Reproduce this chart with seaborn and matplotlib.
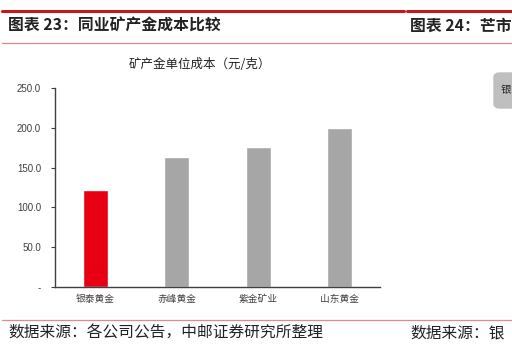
import matplotlib
matplotlib.use("Agg")
import matplotlib.pyplot as plt
import pandas as pd
import seaborn as sns
from matplotlib.lines import Line2D
from matplotlib.patches import FancyBboxPatch

sns.set_theme(style="white")
plt.rcParams["font.family"] = ["Noto Sans CJK SC", "DejaVu Sans"]

# data
companies = ["银泰黄金", "赤峰黄金", "紫金矿业", "山东黄金"]
unit_cost = [122.0, 163.0, 176.0, 200.0]
bar_colors = ["#E60012", "#A6A6A6", "#A6A6A6", "#A6A6A6"]
y_ticks = [0, 50, 100, 150, 200, 250]
y_tick_labels = ["-", "50.0", "100.0", "150.0", "200.0", "250.0"]

W, H = 512, 353
fig = plt.figure(figsize=(W / 100, H / 100), dpi=100)


def fx(px):
    return px / W


def fy(py):
    return 1 - py / H


# page decorations
red_dark = "#C8161D"
pink = "#E8868A"
fig.add_artist(Line2D([fx(2), fx(404)], [fy(10.5)] * 2, color=red_dark, lw=2.2))
fig.add_artist(Line2D([fx(407), fx(512)], [fy(10.5)] * 2, color=red_dark, lw=2.2))
fig.add_artist(Line2D([fx(2), fx(512)], [fy(42.5)] * 2, color=pink, lw=0.9))
fig.add_artist(Line2D([fx(2), fx(512)], [fy(319.5)] * 2, color=pink, lw=0.9))

fig.text(fx(8), fy(26), "图表 23：同业矿产金成本比较", fontsize=11.4,
         fontweight="bold", va="center", ha="left", color="#222222")
fig.text(fx(410), fy(26), "图表 24：芒市", fontsize=11.4,
         fontweight="bold", va="center", ha="left", color="#222222")
fig.text(fx(8), fy(333), "数据来源：各公司公告，中邮证券研究所整理", fontsize=11.3,
         va="center", ha="left", color="#222222")
fig.text(fx(410), fy(333), "数据来源：银", fontsize=11.3,
         va="center", ha="left", color="#222222")

box = FancyBboxPatch((fx(494), fy(108)), fx(40), fy(73) - fy(108),
                     boxstyle="round,pad=0,rounding_size=0.012",
                     transform=fig.transFigure, facecolor="#BFBFBF",
                     edgecolor="#BFBFBF")
fig.add_artist(box)
fig.text(fx(501), fy(90), "银", fontsize=7.5, va="center", ha="left", color="#222222")

# chart
ax = fig.add_axes([fx(55), fy(287), fx(380) - fx(55), fy(88) - fy(287)])
df = pd.DataFrame({"company": companies, "cost": unit_cost})
sns.barplot(data=df, x="company", y="cost", hue="company", palette=bar_colors,
            legend=False, width=0.31, saturation=1, ax=ax)

ax.set_ylim(0, 250)
ax.set_xlim(-0.5, len(companies) - 0.5)
ax.set_yticks(y_ticks)
ax.set_yticklabels(y_tick_labels, fontsize=7, color="#404040",
                   family=["Liberation Sans", "DejaVu Sans"])
ax.set_xticks(range(len(companies)))
ax.set_xticklabels(companies, fontsize=7, color="#404040")
ax.set_xticks([i - 0.5 for i in range(len(companies) + 1)], minor=True)
ax.tick_params(axis="x", which="major", length=0, pad=5)
ax.tick_params(axis="x", which="minor", length=3, width=0.8, color="#404040", direction="out")
ax.tick_params(axis="y", length=3, width=0.8, color="#404040", direction="out", pad=7, left=True)
ax.set_xlabel("")
ax.set_ylabel("")
for side in ["top", "right"]:
    ax.spines[side].set_visible(False)
for side in ["left", "bottom"]:
    ax.spines[side].set_color("#404040")
    ax.spines[side].set_linewidth(1.0)
ax.grid(False)

fig.text(fx(200), fy(65), "矿产金单位成本（元/克）", fontsize=9, ha="center",
         va="center", color="#222222")

fig.savefig("out.png", dpi=100)
